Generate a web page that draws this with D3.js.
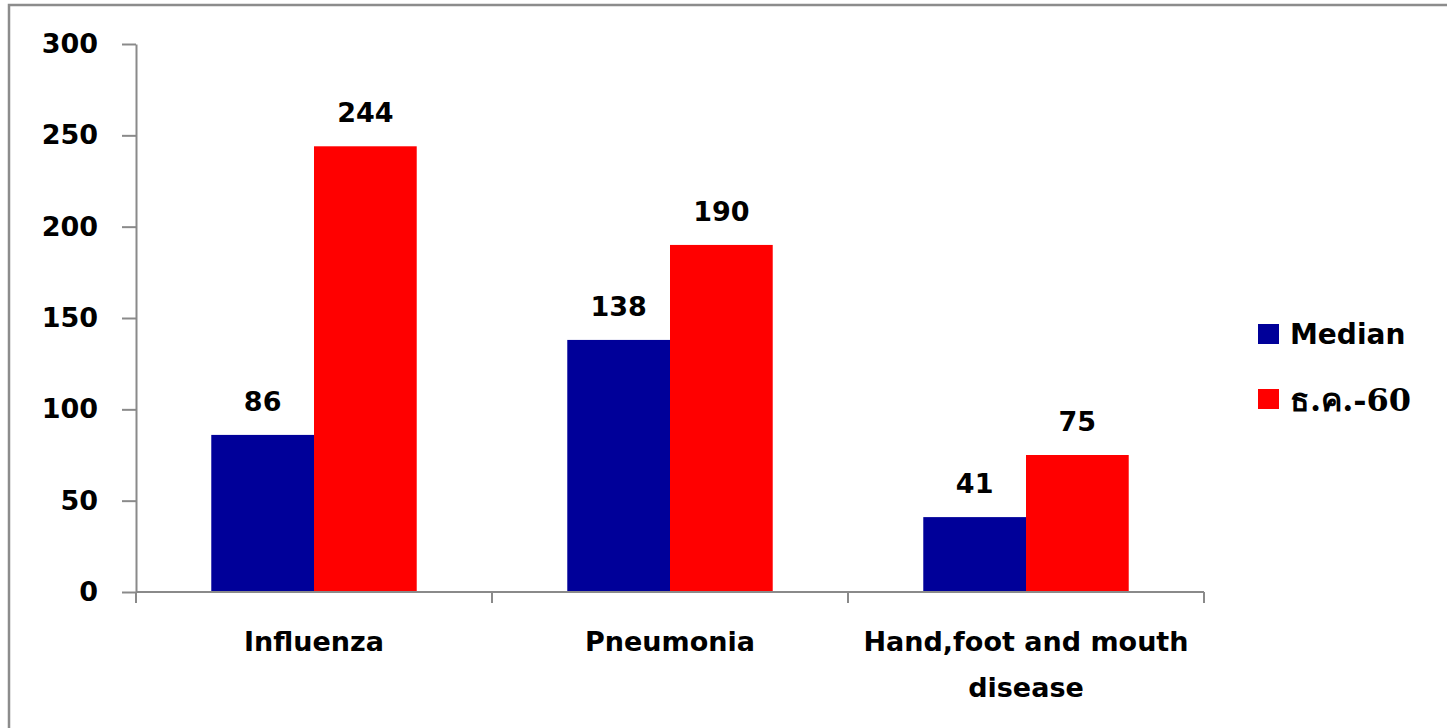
<!DOCTYPE html>
<html>
<head>
<meta charset="utf-8">
<script src="https://cdn.jsdelivr.net/npm/d3@7"></script>
<style>
  html, body { margin: 0; padding: 0; background: #fff; }
  svg { display: block; }
</style>
</head>
<body>
<svg id="chart" width="1447" height="728"></svg>
<script>
const categories = ["Influenza", "Pneumonia", "Hand,foot and mouth disease"];
const categoryLines = [["Influenza"], ["Pneumonia"], ["Hand,foot and mouth", "disease"]];
const seriesNames = ["Median", "ธ.ค.-60"];
const medianValues = [86, 138, 41];
const dec60Values = [244, 190, 75];
const yTicks = [0, 50, 100, 150, 200, 250, 300];
const colors = ["#000099", "#FF0000"];

const svg = d3.select("#chart");
const font = "'DejaVu Sans', Verdana, sans-serif";
const fs = "27px";

// outer border
svg.append("rect").attr("x", 9).attr("y", 5).attr("width", 1460).attr("height", 740)
  .attr("fill", "none").attr("stroke", "#8c8c8c").attr("stroke-width", 2.5);

const x0 = d3.scaleBand().domain(categories).range([136, 1204]).paddingInner(0).paddingOuter(0);
const x1 = d3.scaleBand().domain(seriesNames).range([0, x0.bandwidth()]).paddingOuter(0.7328).paddingInner(0);
const y = d3.scaleLinear().domain([0, 300]).range([592, 44]);

const axisColor = "#8a8a8a";

// y axis
const yAxis = svg.append("g").attr("transform", "translate(136,0)")
  .call(d3.axisLeft(y).tickValues(yTicks).tickSize(14).tickPadding(24).tickSizeOuter(0));
yAxis.select(".domain").attr("stroke", axisColor).attr("stroke-width", 2);
yAxis.selectAll(".tick line").attr("stroke", axisColor).attr("stroke-width", 2);
yAxis.selectAll(".tick text").attr("font-family", font).attr("font-weight", "bold")
  .attr("font-size", fs).attr("fill", "#000");

// bars
const data = categories.map((c, i) => ({ cat: c, vals: [medianValues[i], dec60Values[i]] }));
const groups = svg.append("g").selectAll("g").data(data).join("g")
  .attr("transform", d => `translate(${x0(d.cat)},0)`);
groups.selectAll("rect").data(d => d.vals.map((v, j) => ({ s: seriesNames[j], v, j })))
  .join("rect")
  .attr("x", d => x1(d.s)).attr("width", x1.bandwidth())
  .attr("y", d => y(d.v)).attr("height", d => y(0) - y(d.v))
  .attr("fill", d => colors[d.j]);
groups.selectAll("text.val").data(d => d.vals.map((v, j) => ({ s: seriesNames[j], v, j })))
  .join("text").attr("class", "val")
  .attr("x", d => x1(d.s) + x1.bandwidth() / 2).attr("y", d => y(d.v) - 24)
  .attr("text-anchor", "middle").attr("font-family", font).attr("font-weight", "bold")
  .attr("font-size", fs).attr("fill", "#000").text(d => d.v);

// x axis
const xAxisG = svg.append("g").attr("transform", "translate(0,592)");
xAxisG.append("line").attr("x1", 136).attr("x2", 1204).attr("y1", 0).attr("y2", 0)
  .attr("stroke", axisColor).attr("stroke-width", 2);
const bounds = categories.map(c => x0(c)).concat([x0(categories[categories.length - 1]) + x0.bandwidth()]);
xAxisG.selectAll("line.tk").data(bounds).join("line").attr("class", "tk")
  .attr("x1", d => d).attr("x2", d => d).attr("y1", 0).attr("y2", 11)
  .attr("stroke", axisColor).attr("stroke-width", 2);
const labels = xAxisG.selectAll("text.cat").data(categories).join("text").attr("class", "cat")
  .attr("x", d => x0(d) + x0.bandwidth() / 2).attr("y", 59)
  .attr("text-anchor", "middle").attr("font-family", font).attr("font-weight", "bold")
  .attr("font-size", fs).attr("fill", "#000");
labels.each(function (d, i) {
  const t = d3.select(this);
  categoryLines[i].forEach((ln, k) => {
    t.append("tspan").attr("x", x0(d) + x0.bandwidth() / 2).attr("dy", k === 0 ? 0 : 46).text(ln);
  });
});

// legend
const legend = svg.append("g");
const legendY = [334, 399];
seriesNames.forEach((s, i) => {
  legend.append("rect").attr("x", 1258).attr("y", legendY[i] - 10).attr("width", 21).attr("height", 20)
    .attr("fill", colors[i]);
  legend.append("text").attr("x", 1290).attr("y", legendY[i] + (i === 0 ? 10 : 12))
    .attr("font-family", i === 0 ? font : "'DejaVu Serif', 'Liberation Serif', serif")
    .attr("font-weight", "bold").attr("font-size", i === 0 ? "28px" : "32px").attr("fill", "#000").text(s);
});
</script>
</body>
</html>
